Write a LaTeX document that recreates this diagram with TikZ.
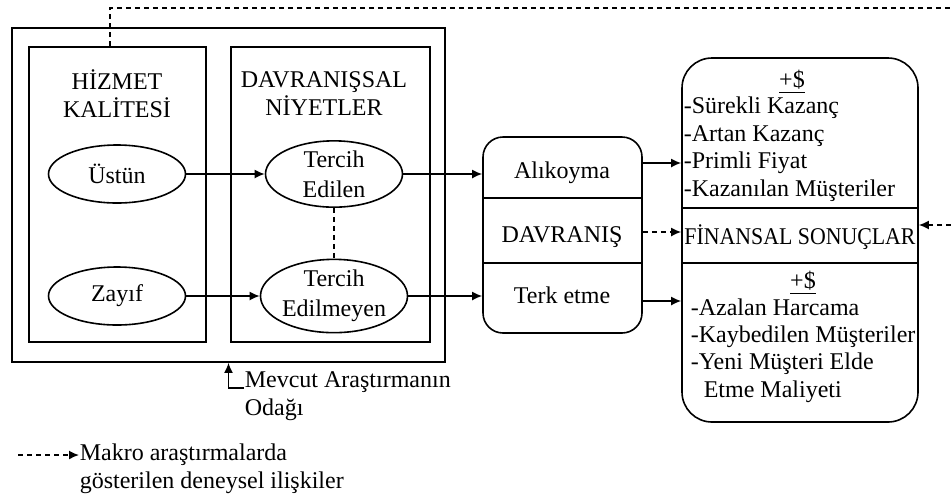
\documentclass[tikz,border=0pt]{standalone}
\usepackage{fontspec}
\setmainfont{Liberation Serif}
\usetikzlibrary{positioning}
\usetikzlibrary{arrows.meta}
\usetikzlibrary{shapes.geometric,calc}

\begin{document}
\begin{tikzpicture}[x=0.5pt,y=-0.5pt,line width=0.8pt,
  every node/.style={font=\fontsize{12}{14}\selectfont,inner sep=0pt},
  frame/.style={draw,rectangle},
  qnode/.style={draw,ellipse,minimum width=68.5pt,minimum height=29pt,align=center,font=\fontsize{12}{15}\selectfont},
  rbox/.style={draw,rectangle,rounded corners=#1},
  item/.style={anchor=west,text height=8pt,text depth=2.5pt},
  arr/.style={-{Latex[length=5pt,width=4.5pt]}},
  dsh/.style={dash pattern=on 2.5pt off 2pt},
  darr/.style={arr,dsh}]

\useasboundingbox (0,0) rectangle (951,500);

% focus of the study
\node[frame,minimum width=216.5pt,minimum height=167pt] (outer) at (228.5,195) {};
\node[frame,minimum width=88.5pt,minimum height=147.5pt] (hk) at (117.5,194.5) {};
\node[frame,minimum width=99.5pt,minimum height=147.5pt] (dn) at (330.5,194.5) {};

\node[align=center] (hkt) at (117,94) {HİZMET\\KALİTESİ};
\node[align=center] (dnt) at (324,94) {DAVRANIŞSAL\\NİYETLER};

\node[qnode] (us) at (117,174) {Üstün};
\node[qnode] (zy) at (117,296) {Zayıf};
\node[qnode] (te) at (334,174) {Tercih\\Edilen};
\node[qnode] (tm) at (334,296) {Tercih\\Edilmeyen};

% behaviour
\node[rbox=10pt,minimum width=79.5pt,minimum height=98pt] (beh) at (562.5,235) {};
\coordinate (b1) at (0,198);
\coordinate (b2) at (0,263);
\draw (beh.west |- b1) -- (beh.east |- b1);
\draw (beh.west |- b2) -- (beh.east |- b2);
\node (ret) at (562,173) {Alıkoyma};
\node (bhv) at (562,237) {DAVRANIŞ};
\node (quit) at (562,295) {Terk etme};

% financial results
\node[rbox=15pt,minimum width=118pt,minimum height=182pt] (fin) at (800,240) {};
\coordinate (f1) at (0,208);
\coordinate (f2) at (0,263);
\draw (fin.west |- f1) -- (fin.east |- f1);
\draw (fin.west |- f2) -- (fin.east |- f2);
\node (gain) at (792,82) {\underline{+\$}};
\foreach \t [count=\i] in {Sürekli Kazanç,Artan Kazanç,Primli Fiyat,Kazanılan Müşteriler}
  \node[item] (g\i) at (683,80.5+27.5*\i) {-\t};
\node (fint) at (800,237) {\scalebox{0.91}[1]{FİNANSAL SONUÇLAR}};
\node (loss) at (803,283) {\underline{+\$}};
\foreach \t [count=\i] in {Azalan Harcama,Kaybedilen Müşteriler,Yeni Müşteri Elde}
  \node[item] (k\i) at (690,283+27*\i) {-\t};
\node[item] (k4) at (703,392) {Etme Maliyeti};

\draw[arr] (us) -- (te);
\draw[arr] (zy) -- (tm);
\draw[dsh] (te) -- (tm);
\draw[arr] (te) -- (te -| beh.west);
\draw[arr] (tm) -- (tm -| beh.west);

\draw[arr] ($(ret -| beh.east)+(0,-10)$) -- ($(ret -| fin.west)+(0,-10)$);
\draw[darr] ($(bhv -| beh.east)+(0,-5)$) -- ($(bhv -| fin.west)+(0,-5)$);
\draw[arr] ($(quit -| beh.east)+(0,6)$) -- ($(quit -| fin.west)+(0,6)$);

% macro studies
\coordinate (mtop) at (951,8);
\coordinate (mright) at (951,225);
\draw[dsh] ($(hk.north)+(-7.5,0)$) |- (mtop);
\draw[darr] (mright) -- (mright -| fin.east);

\node[align=left,anchor=west] (focus) at (244,396) {Mevcut Araştırmanın\\Odağı};
\draw[arr] ($(focus.west)+(0,-8)$) -| (outer.south);

% legend
\node[align=left,anchor=west] (legt) at (79,469) {Makro araştırmalarda\\gösterilen deneysel ilişkiler};
\coordinate (legs) at (18,455);
\draw[darr] (legs) -- (legs -| legt.west);
\end{tikzpicture}
\end{document}
